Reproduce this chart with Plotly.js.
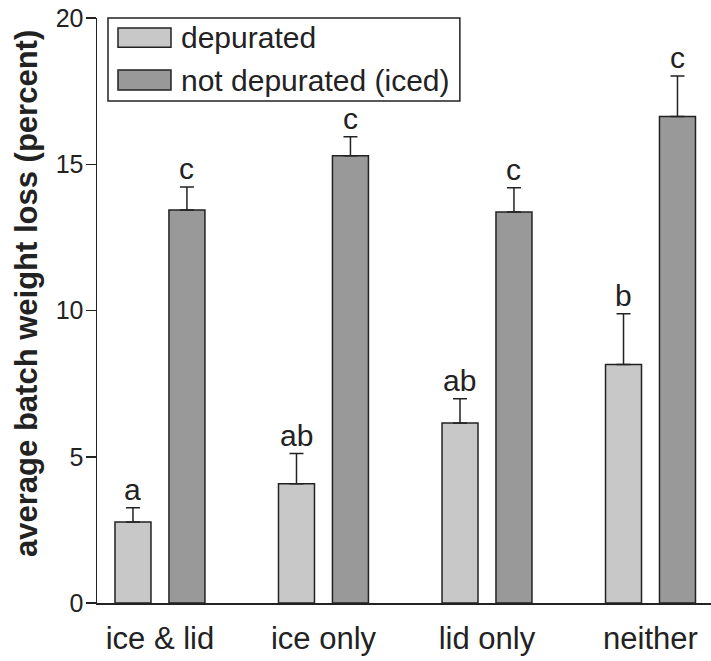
<!DOCTYPE html>
<html>
<head>
<meta charset="utf-8">
<script src="https://cdn.plot.ly/plotly-3.0.1.min.js"></script>
<style>html,body{margin:0;padding:0;background:#fff;}#chart{width:711px;height:661px;}</style>
</head>
<body>
<div id="chart"></div>
<script>
const categories = ["ice & lid", "ice only", "lid only", "neither"];
const depurated = [2.77, 4.08, 6.15, 8.15];
const depuratedErr = [0.49, 1.03, 0.83, 1.74];
const notDepurated = [13.44, 15.29, 13.37, 16.63];
const notDepuratedErr = [0.78, 0.65, 0.83, 1.39];
const depLetters = ["a", "ab", "ab", "b"];
const notDepLetters = ["c", "c", "c", "c"];
const seriesNames = ["depurated", "not depurated (iced)"];
const yTicks = [0, 5, 10, 15, 20];
const yTitle = "average batch weight loss (percent)";

const dark = "#222222";
const lightFill = "#c8c8c8";
const darkFill = "#999999";
const fam = "Liberation Sans, Arial, sans-serif";

const traces = [
  {
    type: "bar", name: seriesNames[0], x: categories, y: depurated,
    marker: {color: lightFill, line: {color: dark, width: 1.5}},
    error_y: {type: "data", symmetric: false, array: depuratedErr, arrayminus: depuratedErr.map(() => 0),
      color: dark, thickness: 1.5, width: 7},
    showlegend: false, hoverinfo: "skip"
  },
  {
    type: "bar", name: seriesNames[1], x: categories, y: notDepurated,
    marker: {color: darkFill, line: {color: dark, width: 1.5}},
    error_y: {type: "data", symmetric: false, array: notDepuratedErr, arrayminus: notDepuratedErr.map(() => 0),
      color: dark, thickness: 1.5, width: 7},
    showlegend: false, hoverinfo: "skip"
  }
];

const annotations = [];
categories.forEach((c, i) => {
  annotations.push({x: c, y: depurated[i] + depuratedErr[i], text: depLetters[i], showarrow: false,
    xshift: -27, yanchor: "bottom", yshift: 0, font: {family: fam, size: 30, color: dark}});
  annotations.push({x: c, y: notDepurated[i] + notDepuratedErr[i], text: notDepLetters[i], showarrow: false,
    xshift: 27, yanchor: "bottom", yshift: 0, font: {family: fam, size: 30, color: dark}});
});
// legend text
annotations.push({xref: "paper", yref: "paper", x: 0.133, y: 0.966, xanchor: "left", yanchor: "middle",
  text: seriesNames[0], showarrow: false, font: {family: fam, size: 30, color: dark}});
annotations.push({xref: "paper", yref: "paper", x: 0.133, y: 0.894, xanchor: "left", yanchor: "middle",
  text: seriesNames[1], showarrow: false, font: {family: fam, size: 30, color: dark}});
// y axis title
annotations.push({xref: "paper", yref: "paper", x: -0.115, y: 0.529, xanchor: "center", yanchor: "middle",
  textangle: -90, text: "<b>" + yTitle + "</b>", showarrow: false, font: {family: fam, size: 31, color: dark}});

const shapes = [
  {type: "rect", xref: "paper", yref: "paper", x0: 0.0179, x1: 0.591, y0: 0.858, y1: 1.0,
    line: {color: dark, width: 1.5}, fillcolor: "#ffffff", layer: "above"},
  {type: "rect", xref: "paper", yref: "paper", x0: 0.0342, x1: 0.1205, y0: 0.950, y1: 0.983,
    line: {color: dark, width: 1.5}, fillcolor: lightFill, layer: "above"},
  {type: "rect", xref: "paper", yref: "paper", x0: 0.0342, x1: 0.1205, y0: 0.877, y1: 0.911,
    line: {color: dark, width: 1.5}, fillcolor: darkFill, layer: "above"}
];

const layout = {
  width: 711, height: 661,
  margin: {l: 97, r: 0, t: 18, b: 58, pad: 0},
  paper_bgcolor: "#ffffff", plot_bgcolor: "#ffffff",
  barmode: "group", bargap: 0.34, bargroupgap: 0.333,
  font: {family: fam, color: dark},
  xaxis: {
    type: "category", range: [-0.385, 3.37], showline: true, linecolor: dark, linewidth: 1.5,
    ticks: "", showgrid: false, zeroline: false, tickfont: {size: 31, color: dark},
    ticklabelstandoff: 7, fixedrange: true
  },
  yaxis: {
    range: [0, 20], tickvals: yTicks, showline: true, linecolor: dark, linewidth: 1.5,
    ticks: "outside", ticklen: 10, tickwidth: 1.5, tickcolor: dark, showgrid: false, zeroline: false,
    tickfont: {size: 25, color: dark}, ticklabelstandoff: -3, fixedrange: true
  },
  annotations: annotations,
  shapes: shapes,
  showlegend: false
};

Plotly.newPlot("chart", traces, layout, {displayModeBar: false, staticPlot: true});
</script>
</body>
</html>
